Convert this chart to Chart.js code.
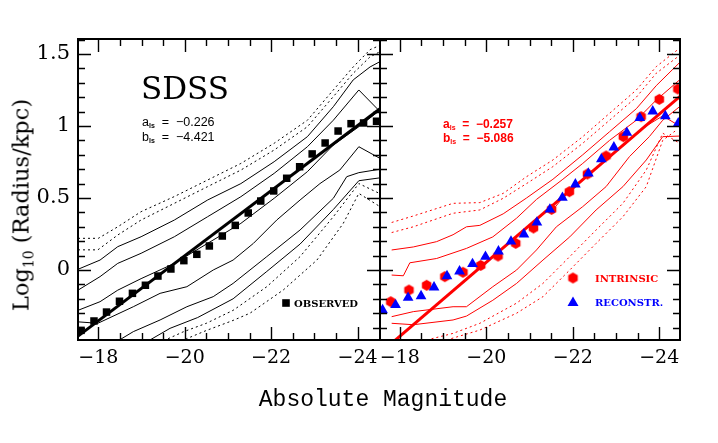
<!DOCTYPE html>
<html>
<head>
<meta charset="utf-8">
<script src="https://cdn.jsdelivr.net/npm/chart.js@4.4.0/dist/chart.umd.min.js"></script>
<style>
  html, body { margin: 0; padding: 0; background: #fff; }
  #wrap { position: relative; width: 718px; height: 443px; overflow: hidden; }
  canvas { position: absolute; left: 0; top: 0; }
  .t { position: absolute; white-space: nowrap; line-height: 1; }
  #ytitle { left: 22px; top: 205px; transform: translate(-50%, -50%) rotate(-90deg); font: 22.5px 'DejaVu Serif'; }
  #ytitle sub { font-size: 14px; vertical-align: -5px; }
  #xtitle { left: 383px; top: 400px; transform: translate(-50%, -50%); font: 23px 'Liberation Mono'; }
  #sdss { left: 185px; top: 88px; transform: translate(-50%, -50%); font: 31px 'DejaVu Serif'; }
  .fit { font: 12.5px 'Liberation Sans'; transform: translateY(-50%); }
  .fit sub { font-size: 7px; font-weight: bold; vertical-align: -2px; }
  .red { color: #ff0000; font-weight: bold; font-size: 12px; }
  .leg { font: bold 10px 'DejaVu Serif'; transform: translateY(-50%); }
</style>
</head>
<body>
<div id="wrap">
  <canvas id="leftPanel" width="718" height="443"></canvas>
  <canvas id="rightPanel" width="718" height="443"></canvas>
  <div class="t" id="ytitle">Log<sub>10</sub> (Radius/kpc)</div>
  <div class="t" id="xtitle">Absolute Magnitude</div>
  <div class="t" id="sdss">SDSS</div>
  <div class="t fit" style="left:142px;top:122px">a<sub>ls</sub>&nbsp; = &nbsp;&minus;0.226</div>
  <div class="t fit" style="left:142px;top:137px">b<sub>ls</sub>&nbsp; = &nbsp;&minus;4.421</div>
  <div class="t fit red" style="left:443px;top:124px">a<sub>ls</sub>&nbsp; = &nbsp;&minus;0.257</div>
  <div class="t fit red" style="left:443px;top:138px">b<sub>ls</sub>&nbsp; = &nbsp;&minus;5.086</div>
  <div class="t leg" style="left:294px;top:303px">OBSERVED</div>
  <div class="t leg" style="left:595px;top:278px;color:#ff0000">INTRINSIC</div>
  <div class="t leg" style="left:595px;top:302px;color:#0000ff">RECONSTR.</div>
</div>
<script>
// magnitude bins (observed and reconstructed share the same bins)
const binMag = [-17.60, -17.90, -18.19, -18.49, -18.79, -19.09, -19.38, -19.68, -19.98, -20.28, -20.57, -20.87,
                -21.17, -21.47, -21.76, -22.06, -22.36, -22.66, -22.95, -23.25, -23.55, -23.85, -24.14, -24.44];
const observedLogR = [-0.419, -0.354, -0.292, -0.217, -0.162, -0.106, -0.042, 0.007, 0.065, 0.109, 0.167, 0.236,
                      0.310, 0.396, 0.479, 0.549, 0.637, 0.717, 0.806, 0.882, 0.965, 1.016, 1.021, 1.033];
const reconLogR = [-0.278, -0.243, -0.192, -0.181, -0.120, -0.042, -0.009, 0.042, 0.093, 0.130, 0.199, 0.248,
                   0.331, 0.421, 0.502, 0.595, 0.671, 0.769, 0.852, 0.954, 1.056, 1.102, 1.069, 1.019];
const intrinsicMag = [-17.79, -18.21, -18.62, -19.04, -19.46, -19.87, -20.27, -20.68, -21.09, -21.51, -21.92,
                      -22.34, -22.77, -23.17, -23.58, -24.00, -24.43];
const intrinsicLogR = [-0.220, -0.139, -0.106, -0.046, -0.016, 0.032, 0.097, 0.185, 0.292, 0.421, 0.544,
                       0.667, 0.792, 0.926, 1.065, 1.185, 1.257];

// least-squares lines (end points)
const fitObserved = [[-17.53, -0.459], [-24.52, 1.120]];
const fitIntrinsic = [[-17.54, -0.578], [-24.48, 1.205]];

// percentile contours, [mag, log R]
const obsDot1 = [[-17.53,0.22],[-18.0,0.22],[-18.45,0.30],[-18.99,0.405],[-19.76,0.51],[-20.53,0.625],[-21.3,0.74],[-22.07,0.88],[-22.84,1.04],[-23.44,1.25],[-23.9,1.41],[-24.29,1.53],[-24.52,1.56]];
const obsDot2 = [[-17.53,0.14],[-17.99,0.14],[-18.45,0.243],[-18.99,0.347],[-19.76,0.463],[-20.53,0.579],[-21.3,0.694],[-22.07,0.833],[-22.84,0.995],[-23.44,1.204],[-23.9,1.366],[-24.29,1.48],[-24.52,1.516]];
const obsLine1 = [[-17.53,0.005],[-18.04,0.069],[-18.45,0.162],[-18.99,0.231],[-19.76,0.347],[-20.53,0.486],[-21.3,0.60],[-22.07,0.752],[-22.84,0.926],[-23.44,1.134],[-23.9,1.32],[-24.29,1.41],[-24.52,1.447]];
const obsLine2 = [[-17.53,-0.14],[-18.04,-0.046],[-18.45,0.046],[-18.99,0.116],[-19.76,0.231],[-20.53,0.37],[-21.3,0.509],[-22.07,0.671],[-22.84,0.856],[-23.44,1.04],[-24.03,1.25],[-24.52,1.10]];
const obsMedian = [[-17.53,-0.28],[-18.04,-0.22],[-18.45,-0.14],[-18.99,-0.06],[-19.76,0.046],[-20.53,0.185],[-21.3,0.324],[-22.07,0.498],[-22.84,0.683],[-23.44,0.868],[-24.03,0.995],[-24.52,1.11]];
const obsLine3 = [[-17.53,-0.36],[-17.99,-0.37],[-18.81,-0.255],[-19.43,-0.162],[-20.05,-0.116],[-20.66,0.0],[-21.12,0.069],[-21.59,0.185],[-22.13,0.347],[-22.67,0.486],[-23.13,0.60],[-23.59,0.694],[-24.03,0.856],[-24.52,0.775]];
const obsLine4 = [[-18.3,-0.52],[-18.81,-0.428],[-19.43,-0.347],[-20.05,-0.255],[-20.66,-0.185],[-21.12,-0.093],[-21.9,0.093],[-22.67,0.278],[-23.44,0.498],[-23.75,0.648],[-24.03,0.676],[-24.52,0.70]];
const obsLine5 = [[-19.0,-0.52],[-19.66,-0.405],[-20.3,-0.33],[-21.12,-0.20],[-21.9,-0.01],[-22.67,0.18],[-23.44,0.42],[-24.03,0.62],[-24.52,0.64]];
const obsDot3 = [[-19.3,-0.52],[-19.96,-0.43],[-20.5,-0.37],[-21.12,-0.28],[-21.9,-0.116],[-22.67,0.093],[-23.44,0.37],[-24.03,0.60],[-24.52,0.53]];
const obsDot4 = [[-19.7,-0.52],[-20.5,-0.42],[-21.12,-0.35],[-21.51,-0.30],[-22.28,-0.139],[-23.06,0.069],[-23.67,0.324],[-24.03,0.532],[-24.52,0.44]];

const intDot1 = [[-17.81,0.33],[-18.31,0.375],[-19.23,0.463],[-19.85,0.468],[-20.39,0.532],[-20.93,0.648],[-21.54,0.764],[-22.23,0.926],[-22.85,1.088],[-23.47,1.25],[-23.93,1.412],[-24.47,1.54]];
const intDot2 = [[-17.81,0.26],[-18.31,0.30],[-19.23,0.394],[-19.85,0.417],[-20.39,0.498],[-20.93,0.60],[-21.54,0.718],[-22.23,0.88],[-22.85,1.04],[-23.47,1.20],[-23.93,1.366],[-24.47,1.49]];
const intLine1 = [[-17.81,0.139],[-18.31,0.16],[-18.85,0.197],[-19.23,0.245],[-19.54,0.30],[-19.85,0.31],[-20.39,0.39],[-20.93,0.50],[-21.54,0.63],[-22.23,0.80],[-22.85,0.96],[-23.47,1.12],[-23.93,1.28],[-24.47,1.44]];
const intLine2 = [[-17.81,-0.035],[-18.08,-0.04],[-18.23,0.05],[-18.85,0.08],[-19.54,0.15],[-20.15,0.23],[-20.70,0.36],[-21.16,0.49],[-21.77,0.63],[-22.23,0.74],[-22.85,0.90],[-23.47,1.04],[-23.93,1.18],[-24.47,1.32]];
const intMedian = [[-21.6,0.44],[-21.93,0.56],[-22.1,0.60],[-22.6,0.72],[-23.16,0.86],[-23.7,1.0],[-24.08,1.07],[-24.47,1.0]];
const intLine3 = [[-17.81,-0.324],[-18.31,-0.289],[-19.23,-0.255],[-19.54,-0.255],[-20.15,-0.116],[-20.70,0.0],[-21.16,0.139],[-21.62,0.30],[-22.23,0.44],[-22.77,0.579],[-23.31,0.787],[-23.77,0.926],[-24.08,1.04],[-24.47,1.134]];
const intLine4 = [[-17.81,-0.37],[-18.31,-0.38],[-19.23,-0.347],[-19.54,-0.32],[-20.15,-0.21],[-20.70,-0.093],[-21.31,0.069],[-21.93,0.23],[-22.54,0.417],[-23.16,0.579],[-23.70,0.764],[-24.08,0.926],[-24.47,0.93]];
const intDot3 = [[-18.62,-0.486],[-19.23,-0.44],[-19.85,-0.37],[-20.70,-0.23],[-21.31,-0.093],[-21.93,0.093],[-22.54,0.278],[-23.16,0.463],[-23.70,0.694],[-24.08,0.95],[-24.47,0.88]];
const intDot4 = [[-19.08,-0.486],[-19.85,-0.417],[-20.70,-0.30],[-21.31,-0.185],[-21.93,0.0],[-22.54,0.185],[-23.16,0.37],[-23.70,0.579],[-24.08,0.90],[-24.39,0.97]];

// axes
const xTickVals = [-18, -20, -22, -24];
const yTickVals = [0, 0.5, 1, 1.5];
const yMin = -0.486, yMax = 1.604;

const pts = (xs, ys) => xs.map((m, i) => ({x: m, y: ys[i]}));
const pairs = p => p.map(q => ({x: q[0], y: q[1]}));

function contour(p, color, dotted) {
  return {data: pairs(p), showLine: true, pointRadius: 0, borderColor: color, borderWidth: 1,
          borderDash: dotted ? [2, 3] : [], clip: 1};
}
function fitLine(p, color) {
  return {data: pairs(p), showLine: true, pointRadius: 0, borderColor: color, borderWidth: 3, clip: 1};
}

// hexagon marker for the intrinsic points
function hexagon(r, color) {
  const c = document.createElement('canvas');
  c.width = c.height = 2 * r + 2;
  const g = c.getContext('2d');
  g.fillStyle = color;
  g.beginPath();
  for (let k = 0; k < 6; k++) {
    const a = Math.PI / 6 + k * Math.PI / 3;
    g.lineTo(r + 1 + r * Math.cos(a), r + 1 + r * Math.sin(a));
  }
  g.closePath();
  g.fill();
  return c;
}
const hexRed = hexagon(5.5, '#ff0000');

// inward ticks on all four sides plus the frame
const frameTicks = {
  id: 'frameTicks',
  afterDatasetsDraw(chart) {
    const {ctx, chartArea: a, scales: {x, y}} = chart;
    ctx.save();
    ctx.strokeStyle = '#000';
    ctx.lineWidth = 1.4;
    ctx.beginPath();
    for (let m = -18; m >= -24.5; m -= 0.5) {
      const px = Math.round(x.getPixelForValue(m)) + 0.5;
      if (px < a.left + 1 || px > a.right - 1) continue;
      const len = (m % 2 === 0) ? 13 : 7;
      ctx.moveTo(px, a.bottom); ctx.lineTo(px, a.bottom - len);
      ctx.moveTo(px, a.top); ctx.lineTo(px, a.top + len);
    }
    for (let k = -4; k <= 16; k++) {
      const py = Math.round(y.getPixelForValue(k / 10)) + 0.5;
      const len = (k % 5 === 0) ? 13 : 7;
      ctx.moveTo(a.left, py); ctx.lineTo(a.left + len, py);
      ctx.moveTo(a.right, py); ctx.lineTo(a.right - len, py);
    }
    ctx.stroke();
    ctx.lineWidth = 2;
    ctx.strokeRect(a.left, a.top, a.right - a.left, a.bottom - a.top);
    const marks = chart.options.plugins.frameTicks.marks || [];
    marks.forEach(mk => {
      if (mk.type === 'rect') {
        ctx.fillStyle = mk.color;
        ctx.fillRect(mk.x - 3.8, mk.y - 3.8, 7.6, 7.6);
      } else if (mk.type === 'hex') {
        ctx.drawImage(hexRed, mk.x - hexRed.width / 2, mk.y - hexRed.height / 2);
      } else if (mk.type === 'tri') {
        ctx.fillStyle = mk.color;
        ctx.beginPath();
        ctx.moveTo(mk.x, mk.y - 5.5);
        ctx.lineTo(mk.x + 5.5, mk.y + 4);
        ctx.lineTo(mk.x - 5.5, mk.y + 4);
        ctx.closePath();
        ctx.fill();
      }
    });
    ctx.restore();
  }
};

function scales(xmin, xmax, showY, yWidth) {
  return {
    x: {
      type: 'linear', min: xmin, max: xmax, reverse: true,
      grid: {display: false, drawTicks: false}, border: {display: false},
      afterBuildTicks: s => { s.ticks = xTickVals.map(v => ({value: v})); },
      afterFit: s => { s.height = 103; },
      ticks: {color: '#000', padding: 7, maxRotation: 0, autoSkip: false,
              font: {family: 'DejaVu Serif', size: 19},
              callback: v => '\u2212' + Math.abs(v)}
    },
    y: {
      type: 'linear', min: yMin, max: yMax, display: showY,
      grid: {display: false, drawTicks: false}, border: {display: false},
      afterBuildTicks: s => { s.ticks = yTickVals.map(v => ({value: v})); },
      afterFit: s => { s.width = yWidth; },
      ticks: {color: '#000', padding: 8, font: {family: 'DejaVu Serif', size: 21},
              callback: v => String(v)}
    }
  };
}

const common = {
  responsive: false, animation: false, devicePixelRatio: 1,
  events: []
};

new Chart(document.getElementById('leftPanel'), {
  type: 'scatter',
  data: {
    datasets: [
      {data: pts(binMag, observedLogR), pointStyle: 'rect', pointRadius: 5.3, backgroundColor: '#000', borderColor: '#000', borderWidth: 0},
      fitLine(fitObserved, '#000'),
      contour(obsMedian, '#000', false),
      contour(obsDot1, '#000', true), contour(obsDot2, '#000', true),
      contour(obsLine1, '#000', false), contour(obsLine2, '#000', false),
      contour(obsLine3, '#000', false), contour(obsLine4, '#000', false), contour(obsLine5, '#000', false),
      contour(obsDot3, '#000', true), contour(obsDot4, '#000', true)
    ]
  },
  options: Object.assign({}, common, {
    layout: {padding: {left: 0, top: 39, right: 338, bottom: 0}},
    scales: scales(-24.52, -17.53, true, 78),
    plugins: {legend: {display: false}, tooltip: {enabled: false},
              frameTicks: {marks: [{type: 'rect', x: 286, y: 303, color: '#000'}]}}
  }),
  plugins: [frameTicks]
});

new Chart(document.getElementById('rightPanel'), {
  type: 'scatter',
  data: {
    datasets: [
      {data: pts(binMag, reconLogR), pointStyle: 'triangle', pointRadius: 6.2, backgroundColor: '#0000ff', borderColor: '#0000ff', borderWidth: 0},
      {data: pts(intrinsicMag, intrinsicLogR), pointStyle: hexRed, pointRadius: 6},
      fitLine(fitIntrinsic, '#ff0000'),
      contour(intMedian, '#ff0000', false),
      contour(intDot1, '#ff0000', true), contour(intDot2, '#ff0000', true),
      contour(intLine1, '#ff0000', false), contour(intLine2, '#ff0000', false),
      contour(intLine3, '#ff0000', false), contour(intLine4, '#ff0000', false),
      contour(intDot3, '#ff0000', true), contour(intDot4, '#ff0000', true)
    ]
  },
  options: Object.assign({}, common, {
    layout: {padding: {left: 380, top: 39, right: 38, bottom: 0}},
    scales: scales(-24.48, -17.54, false, 0),
    plugins: {legend: {display: false}, tooltip: {enabled: false},
              frameTicks: {marks: [{type: 'hex', x: 573, y: 278}, {type: 'tri', x: 573, y: 302, color: '#0000ff'}]}}
  }),
  plugins: [frameTicks]
});
</script>
</body>
</html>
